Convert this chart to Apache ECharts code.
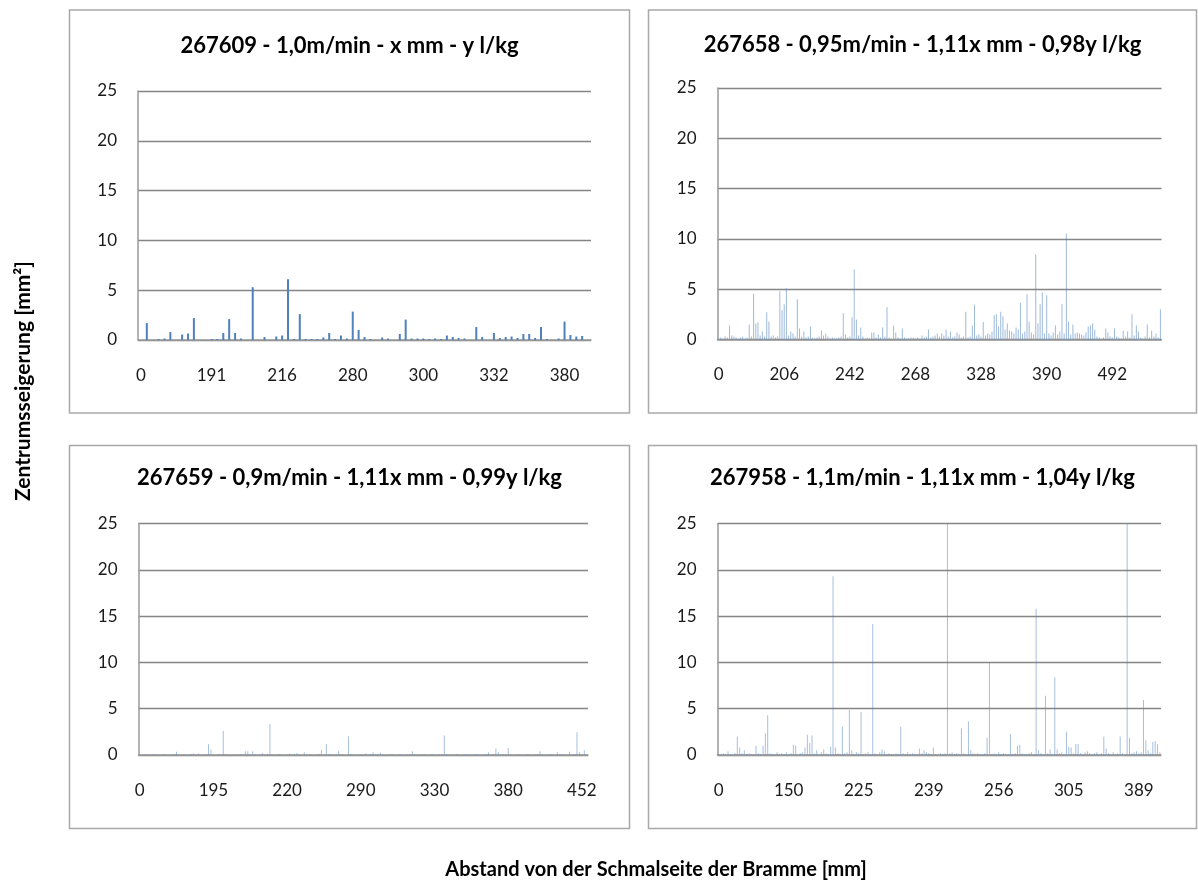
<!DOCTYPE html>
<html>
<head>
<meta charset="utf-8">
<script src="https://cdn.jsdelivr.net/npm/echarts@6/dist/echarts.min.js"></script>
<style>
  html, body { margin: 0; padding: 0; background: #ffffff; }
  #chart { width: 1198px; height: 884px; }
</style>
</head>
<body>
<div id="chart"></div>
<script>
// Panel titles (casting runs)
const panelTitles = [
  '267609 - 1,0m/min - x mm - y l/kg',
  '267658 - 0,95m/min - 1,11x mm - 0,98y l/kg',
  '267659 - 0,9m/min - 1,11x mm - 0,99y l/kg',
  '267958 - 1,1m/min - 1,11x mm - 1,04y l/kg'
];

// Category axis labels shown on each panel (every n-th measuring point)
const tickLabels1 = ['0', '191', '216', '280', '300', '332', '380'];
const tickLabels2 = ['0', '206', '242', '268', '328', '390', '492'];
const tickLabels3 = ['0', '195', '220', '290', '330', '380', '452'];
const tickLabels4 = ['0', '150', '225', '239', '256', '305', '389'];
const labelStep1 = 12;
const labelStep2 = 30;
const labelStep3 = 30;
const labelStep4 = 30;

// Centre segregation area per measuring point [mm²]
const values1 = [
  0, 1.7, 0, 0.1, 0.15, 0.8, 0, 0.55, 0.65, 2.2,
  0, 0, 0.1, 0.1, 0.7, 2.1, 0.7, 0.15, 0, 5.3,
  0, 0.3, 0, 0.35, 0.45, 6.1, 0.1, 2.6, 0.1, 0.1,
  0.1, 0.25, 0.7, 0.1, 0.45, 0.15, 2.85, 1.0, 0.3, 0.1,
  0, 0.25, 0.15, 0, 0.6, 2.05, 0.15, 0.15, 0.15, 0.1,
  0.15, 0.1, 0.45, 0.3, 0.2, 0.15, 0, 1.3, 0.3, 0,
  0.7, 0.2, 0.3, 0.35, 0.2, 0.6, 0.6, 0.2, 1.3, 0.1,
  0, 0.15, 1.85, 0.5, 0.35, 0.4, 0
];

const values2 = [
  0.1, 0.2, 0.1, 0.3, 0.2, 1.4, 0.4, 0.3, 0.2, 0.1,
  0.2, 0.3, 0.1, 0.2, 1.5, 0.3, 4.55, 1.6, 1.7, 0.4,
  0.8, 0.3, 2.7, 1.8, 0.3, 0.4, 0.2, 0.3, 4.8, 2.9,
  3.5, 5.1, 0.4, 0.8, 0.6, 0.3, 4.0, 1.1, 0.3, 0.8,
  0.2, 0.3, 1.3, 0.2, 0.1, 0.2, 0.3, 0.9, 0.4, 0.6,
  0.3, 0.1, 0.2, 0.1, 0.1, 0.2, 0.3, 2.6, 0.5, 0.2,
  0.3, 2.2, 6.95, 2.0, 0.4, 1.2, 0.3, 0.1, 0.2, 0.1,
  0.7, 0.7, 0.2, 0.5, 0.2, 1.2, 0.3, 3.2, 0.2, 0.1,
  1.4, 0.7, 0.2, 0.1, 1.1, 0.2, 0.1, 0.1, 0.2, 0.2,
  0.1, 0.2, 0.1, 0.4, 0.2, 0.3, 1.0, 0.2, 0.3, 0.4,
  0.6, 0.3, 0.6, 0.4, 1.0, 0.3, 0.8, 0.2, 0.3, 0.7,
  0.5, 0.2, 0.3, 2.75, 0.2, 0.3, 1.4, 3.45, 0.4, 0.5,
  0.3, 1.75, 0.4, 0.6, 0.5, 0.8, 2.4, 2.5, 1.3, 2.75,
  2.3, 1.0, 1.6, 0.9, 0.8, 0.6, 1.2, 1.0, 3.65, 0.6,
  0.8, 4.5, 1.8, 0.7, 0.5, 8.45, 1.6, 3.5, 4.7, 0.6,
  4.4, 0.6, 0.4, 0.7, 1.4, 0.5, 0.8, 3.5, 0.6, 10.5,
  1.8, 0.5, 1.5, 0.6, 0.7, 0.6, 0.5, 0.4, 0.7, 1.3,
  1.4, 1.6, 1.0, 0.3, 0.2, 0.1, 0.2, 1.1, 0.7, 0.3,
  0.2, 1.1, 0.3, 0.2, 0.1, 0.9, 0.3, 0.8, 0.2, 2.5,
  0.4, 1.4, 0.8, 0.2, 0.1, 0.3, 1.5, 0.2, 0.9, 0.3,
  0.6, 0.2, 3.0
];

const values3 = [
  0.05, 0, 0.05, 0.1, 0, 0.05, 0.1, 0.05, 0, 0.05,
  0.1, 0.05, 0, 0.05, 0.1, 0.35, 0.05, 0, 0.1, 0.05,
  0.05, 0.1, 0.2, 0.05, 0.15, 0, 0.05, 0.1, 1.15, 0.6,
  0.05, 0, 0.1, 0.05, 2.6, 0.1, 0.05, 0, 0.05, 0.1,
  0.05, 0.1, 0.05, 0.4, 0.4, 0.1, 0.4, 0.05, 0, 0.1,
  0.2, 0.05, 0.1, 3.35, 0.05, 0, 0.05, 0.1, 0.05, 0,
  0.05, 0.15, 0.05, 0.1, 0.2, 0.05, 0, 0.3, 0.05, 0.1,
  0.05, 0, 0.05, 0.1, 0.55, 0.05, 1.2, 0.1, 0.05, 0,
  0.05, 0.45, 0.1, 0.05, 0, 2.0, 0.1, 0.05, 0, 0.05,
  0.1, 0.05, 0.2, 0.05, 0.1, 0.3, 0.05, 0.1, 0.25, 0.05,
  0, 0.05, 0.1, 0.05, 0, 0.05, 0.1, 0.05, 0, 0.05,
  0.1, 0.4, 0.05, 0, 0.05, 0.1, 0.05, 0, 0.05, 0.1,
  0.05, 0, 0.05, 0.1, 2.1, 0.1, 0.05, 0, 0.05, 0.1,
  0.05, 0, 0.05, 0.1, 0.05, 0, 0.05, 0.1, 0.05, 0,
  0.05, 0.1, 0.3, 0.05, 0.1, 0.7, 0.3, 0.05, 0.1, 0.05,
  0.75, 0.05, 0, 0.05, 0.1, 0.05, 0, 0.05, 0.1, 0.05,
  0, 0.05, 0.1, 0.4, 0.05, 0, 0.05, 0.1, 0.05, 0,
  0.3, 0.05, 0.1, 0.05, 0, 0.35, 0.05, 0.1, 2.45, 0.3,
  0.1, 0.5, 0.05
];

const values4 = [
  0.1, 0.05, 0.2, 0.1, 0.4, 0.1, 0.05, 0.2, 2.0, 0.8,
  0.2, 0.5, 0.1, 0.2, 0.1, 0.05, 1.0, 0.2, 0.1, 1.0,
  2.35, 4.3, 0.2, 0.1, 0.05, 0.3, 0.1, 0.2, 0.1, 0.3,
  0.1, 0.2, 1.1, 1.0, 0.1, 0.2, 0.3, 0.8, 2.2, 1.3,
  2.1, 0.2, 0.5, 0.1, 0.3, 0.6, 0.2, 0.1, 0.9, 19.3,
  0.8, 0.2, 0.1, 3.05, 0.2, 0.3, 4.85, 0.5, 0.1, 0.3,
  0.2, 4.65, 0.1, 0.2, 0.3, 0.1, 14.15, 0.2, 0.1, 0.3,
  0.6, 0.4, 0.1, 0.2, 0.1, 0.05, 0.2, 0.1, 3.05, 0.2,
  0.1, 0.3, 0.1, 0.2, 0.1, 0.05, 0.7, 0.2, 0.5, 0.3,
  0.2, 0.1, 0.8, 0.1, 0.05, 0.2, 0.1, 0.2, 25, 0.2,
  0.3, 0.1, 0.2, 0.1, 2.85, 0.2, 0.1, 3.65, 0.5, 0.2,
  0.1, 0.2, 0.1, 0.05, 0.2, 1.85, 9.95, 0.1, 0.2, 0.1,
  0.3, 0.1, 0.2, 0.1, 0.05, 2.25, 0.1, 0.2, 1.0, 1.1,
  0.2, 0.1, 0.1, 0.2, 0.3, 0.1, 15.8, 0.5, 0.2, 0.1,
  6.4, 0.2, 0.6, 0.1, 8.4, 0.6, 0.2, 0.3, 0.1, 2.55,
  0.9, 0.8, 0.2, 1.2, 1.2, 0.2, 0.1, 0.3, 0.4, 0.2,
  0.1, 0.2, 0.3, 0.1, 0.2, 2.0, 0.7, 0.2, 0.1, 0.3,
  0.1, 0.2, 2.0, 0.2, 0.1, 25, 1.85, 0.2, 0.3, 0.4,
  0.2, 0.3, 5.95, 1.6, 0.5, 0.2, 1.4, 1.5, 1.15, 0.3
];

const yAxisTitle = 'Zentrumsseigerung [mm²]';
const xAxisTitle = 'Abstand von der Schmalseite der Bramme [mm]';

const FONT = 'Lato, "Open Sans", sans-serif';
const TEXT = '#1a1a1a';
const BAR = '#4f81bd';

// Panel layout: outer frame and plot area for each small chart
const panels = [
  { frame: [69.5, 10, 560, 403], grid: { left: 138, top: 91, width: 453, height: 249 },
    values: values1, labels: tickLabels1, step: labelStep1, barWidth: 2, opacity: 1, titleY: 46 },
  { frame: [648.5, 10, 548, 403], grid: { left: 717.5, top: 88, width: 444, height: 251.5 },
    values: values2, labels: tickLabels2, step: labelStep2, barWidth: 1, opacity: 0.55, titleY: 45 },
  { frame: [69.5, 445.5, 560, 383], grid: { left: 138.5, top: 523.5, width: 449.5, height: 231.5 },
    values: values3, labels: tickLabels3, step: labelStep3, barWidth: 1, opacity: 0.5, titleY: 478 },
  { frame: [648.5, 445.5, 548, 383], grid: { left: 717.5, top: 523.5, width: 443.5, height: 231.5 },
    values: values4, labels: tickLabels4, step: labelStep4, barWidth: 1, opacity: 0.5, titleY: 478 }
];

const grids = [], xAxes = [], yAxes = [], series = [], graphics = [];

panels.forEach((p, i) => {
  grids.push(Object.assign({ containLabel: false }, p.grid));

  xAxes.push({
    type: 'category',
    gridIndex: i,
    data: p.values.map((_, k) => String(k)),
    boundaryGap: true,
    axisLine: { show: true, lineStyle: { color: '#9a9a9a', width: 1.5 } },
    axisTick: { show: false },
    splitLine: { show: false },
    axisLabel: {
      interval: p.step - 1,
      margin: 27,
      fontFamily: FONT,
      fontSize: 17,
      color: TEXT,
      formatter: (v, idx) => {
        const n = idx / p.step;
        return Number.isInteger(n) && p.labels[n] !== undefined ? p.labels[n] : '';
      }
    }
  });

  yAxes.push({
    type: 'value',
    gridIndex: i,
    min: 0,
    max: 25,
    interval: 5,
    axisLine: { show: true, lineStyle: { color: '#9a9a9a', width: 1.5 } },
    axisTick: { show: false },
    splitLine: { show: true, lineStyle: { color: '#858585', width: 1.4 } },
    axisLabel: { margin: 21, fontFamily: FONT, fontSize: 17, color: TEXT }
  });

  series.push({
    type: 'bar',
    xAxisIndex: i,
    yAxisIndex: i,
    data: p.values,
    barWidth: p.barWidth,
    clip: true,
    itemStyle: { color: BAR, opacity: p.opacity },
    emphasis: { disabled: true },
    animation: false
  });

  const [fx, fy, fw, fh] = p.frame;
  graphics.push({
    type: 'rect',
    shape: { x: fx, y: fy, width: fw, height: fh },
    style: { fill: 'none', stroke: '#a9a9a9', lineWidth: 1.5 },
    z: 0
  });
  graphics.push({
    type: 'text',
    x: fx + fw / 2,
    y: p.titleY,
    style: {
      text: panelTitles[i],
      fill: '#000000',
      font: 'bold 22px ' + FONT,
      align: 'center',
      verticalAlign: 'middle'
    }
  });
});

// Shared axis titles
graphics.push({
  type: 'text',
  x: 23,
  y: 381,
  rotation: Math.PI / 2,
  style: {
    text: yAxisTitle,
    fill: '#000000',
    font: 'bold 21px ' + FONT,
    align: 'center',
    verticalAlign: 'middle'
  }
});
graphics.push({
  type: 'text',
  x: 656,
  y: 870,
  style: {
    text: xAxisTitle,
    fill: '#000000',
    font: 'bold 20px ' + FONT,
    align: 'center',
    verticalAlign: 'middle'
  }
});

const chart = echarts.init(document.getElementById('chart'), null, { renderer: 'canvas' });
chart.setOption({
  backgroundColor: '#ffffff',
  animation: false,
  grid: grids,
  xAxis: xAxes,
  yAxis: yAxes,
  series: series,
  graphic: graphics
});
</script>
</body>
</html>
